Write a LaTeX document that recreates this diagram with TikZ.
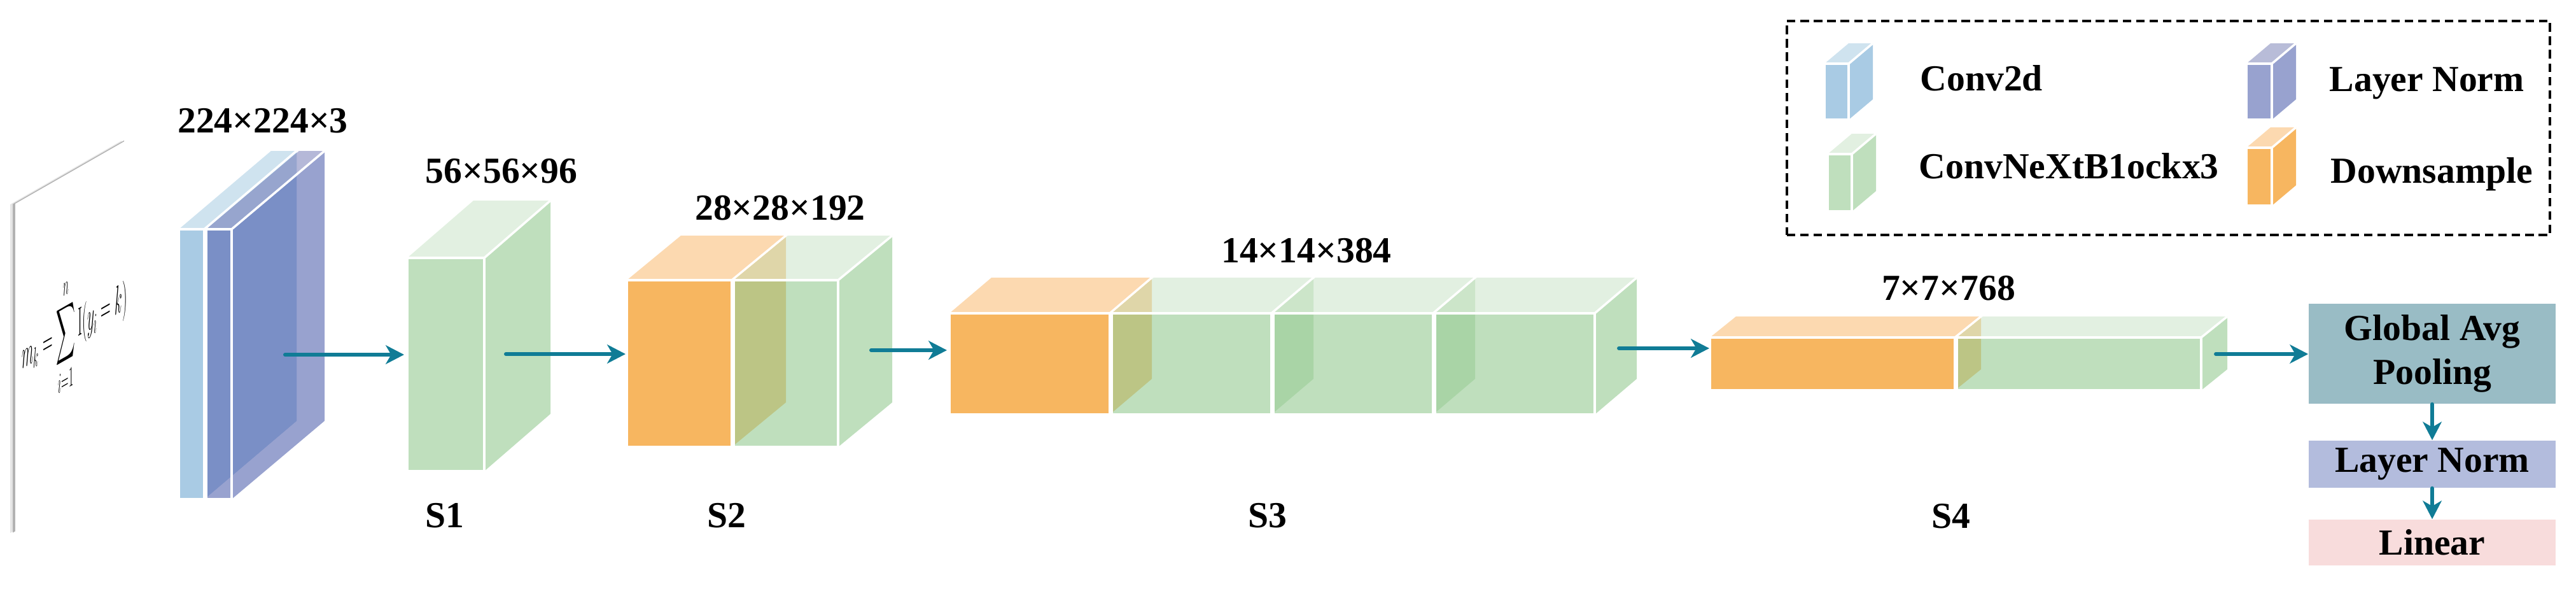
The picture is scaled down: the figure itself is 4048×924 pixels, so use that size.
\documentclass[tikz,border=0pt]{standalone}
\usepackage{fix-cm}
\usepackage{amsmath}
\usepackage[no-math]{fontspec}
\setmainfont{Liberation Serif}
\usetikzlibrary{arrows.meta}
\definecolor{lblue}{RGB}{169,203,228}
\definecolor{lbluetop}{RGB}{207,227,239}
\definecolor{purp}{RGB}{97,112,182}
\definecolor{purptop}{RGB}{142,146,195}
\definecolor{grn}{RGB}{157,206,154}
\definecolor{grntop}{RGB}{211,232,209}
\definecolor{orng}{RGB}{247,182,96}
\definecolor{orngtop}{RGB}{252,217,176}
\definecolor{lgreen}{RGB}{191,223,189}
\definecolor{lgreentop}{RGB}{226,240,225}
\definecolor{lnfront}{RGB}{152,162,207}
\definecolor{lntop}{RGB}{184,188,216}
\definecolor{arrowc}{RGB}{16,124,150}
\definecolor{gapc}{RGB}{153,188,197}
\definecolor{lnboxc}{RGB}{179,188,221}
\definecolor{linc}{RGB}{248,220,220}
% x1 x2 ytop ybot dx dy front top opacity
\newcommand\mycub[9]{%
  \fill[#7,fill opacity=#9] (#1,#3) rectangle (#2,#4);
  \fill[#7,fill opacity=#9] (#2,#3) -- ++(#5,#6) -- ++(0,{#4-#3}) -- (#2,#4) -- cycle;
  \fill[#8,fill opacity=#9] (#1,#3) -- (#2,#3) -- ++(#5,#6) -- ++({#1-#2},0) -- cycle;
}
\newcommand\mycubedge[6]{%
  \draw[wedge] (#1,#3) rectangle (#2,#4);
  \draw[wedge] (#2,#3) -- ++(#5,#6);
}
\begin{document}
\begin{tikzpicture}[x=0.01cm,y=-0.01cm,
  wedge/.style={draw=white,line width=1pt,line join=round},
  lab/.style={font=\fontsize{16.4}{19.7}\selectfont\bfseries,inner sep=0pt,anchor=base},
  leg/.style={font=\fontsize{16.4}{19.7}\selectfont\bfseries,inner sep=0pt,anchor=base west},
  box/.style={inner sep=0pt,font=\fontsize{16.4}{19.7}\selectfont\bfseries,minimum width=3.88cm},
  flow/.style={draw=arrowc,line width=1.7pt,line cap=round,-{Stealth[length=8.2pt,width=8.4pt,inset=2.4pt]}}]
\useasboundingbox (0,0) rectangle (4048,924);

% ---------- input sheet ----------
\fill[black!10,shift={(-8,1)}] (24,320) -- (199,220) -- (199,740) -- (24,836) -- cycle;
\fill[black!30,shift={(-4,0.5)}] (24,320) -- (199,220) -- (199,740) -- (24,836) -- cycle;
\fill[white] (24,320) -- (199,220) -- (199,740) -- (24,836) -- cycle;
\begin{scope}[shift={(117,520)},cm={0.34,0.194,0,1,(0,0)}]
  \node[transform shape,inner sep=0pt] (formula) at (0,0)
    {\fontsize{18}{20}\selectfont$\displaystyle m_k=\sum_{i=1}^{n}\mathrm{I}(y_i=k)$};
\end{scope}

% ---------- input block (Conv2d + Layer Norm) ----------
\fill[lblue] (321,360) -- (466,237) -- (466,661) -- (321,784) -- cycle;
\fill[lblue] (324,360) -- (364,360) -- (466,274) -- (466,240) -- cycle;
\mycub{281}{321}{360}{784}{145}{-123}{lblue}{lbluetop}{1}
\mycub{324}{364}{360}{784}{146}{-123}{purp}{purptop}{0.65}
\mycubedge{281}{321}{360}{784}{145}{-123}
\mycubedge{324}{364}{360}{784}{146}{-123}

% ---------- S1 ----------
\mycub{640}{761}{405}{740}{104}{-90}{grn}{grntop}{0.65}
% ---------- S2 ----------
\mycub{985}{1150}{440}{702}{85}{-70}{orng}{orngtop}{1}
\mycub{1153}{1317}{440}{702}{85}{-70}{grn}{grntop}{0.65}
% ---------- S3 ----------
\mycub{1492}{1744}{492}{651}{66}{-56}{orng}{orngtop}{1}
\mycub{1747}{1998}{492}{651}{66}{-56}{grn}{grntop}{0.65}
\mycub{2001}{2252}{492}{651}{66}{-56}{grn}{grntop}{0.65}
\mycub{2255}{2506}{492}{651}{66}{-56}{grn}{grntop}{0.65}
% ---------- S4 ----------
\mycub{2687}{3072}{530}{613}{41}{-33}{orng}{orngtop}{1}
\mycub{3075}{3459}{530}{613}{41}{-33}{grn}{grntop}{0.65}
% edges
\mycubedge{640}{761}{405}{740}{104}{-90}
\mycubedge{985}{1150}{440}{702}{85}{-70}
\mycubedge{1153}{1317}{440}{702}{85}{-70}
\mycubedge{1492}{1744}{492}{651}{66}{-56}
\mycubedge{1747}{1998}{492}{651}{66}{-56}
\mycubedge{2001}{2252}{492}{651}{66}{-56}
\mycubedge{2255}{2506}{492}{651}{66}{-56}
\mycubedge{2687}{3072}{530}{613}{41}{-33}
\mycubedge{3075}{3459}{530}{613}{41}{-33}

% ---------- size labels ----------
\node[lab] (d0) at (413,208) {224×224×3};
\node[lab] (d1) at (788,287) {56×56×96};
\node[lab] (d2) at (1226,345) {28×28×192};
\node[lab] (d3) at (2053,412) {14×14×384};
\node[lab] (d4) at (3062,471) {7×7×768};
\node[lab] (s1) at (699,828) {S1};
\node[lab] (s2) at (1142,828) {S2};
\node[lab] (s3) at (1992,828) {S3};
\node[lab] (s4) at (3066,829) {S4};

% ---------- head ----------
\node[box,fill=gapc,minimum height=1.57cm,align=center] (gap) at (3822,555.5) {Global Avg\\Pooling};
\node[box,fill=lnboxc,minimum height=0.74cm] (ln) at (3822,729) {Layer Norm};
\node[box,fill=linc,minimum height=0.72cm] (lin) at (3822,852) {Linear};

% ---------- arrows ----------
\coordinate (a1s) at (448,557);  \coordinate (a1e) at (635,557);
\coordinate (a2s) at (795,556);  \coordinate (a2e) at (983,556);
\coordinate (a3s) at (1369,550); \coordinate (a3e) at (1488,550);
\coordinate (a4s) at (2544,547); \coordinate (a4e) at (2686,547);
\coordinate (a5s) at (3482,556);
\draw[flow] (a1s) -- (a1e);
\draw[flow] (a2s) -- (a2e);
\draw[flow] (a3s) -- (a3e);
\draw[flow] (a4s) -- (a4e);
\draw[flow] (a5s) -- (a5s -| gap.west);
\draw[flow] (gap.south) -- (ln.north);
\draw[flow] (ln.south) -- (lin.north);

% ---------- legend ----------
\node[draw=black,line width=1.1pt,dash pattern=on 3.8pt off 2.2pt,inner sep=0pt,
      minimum width=11.99cm,minimum height=3.36cm] (legend) at (3407.5,201) {};
\mycub{2867}{2905}{100}{188}{38}{-32}{lblue}{lbluetop}{1}
\mycub{2872}{2910}{242}{332}{38}{-32}{lgreen}{lgreentop}{1}
\mycub{3530}{3570}{100}{188}{38}{-32}{lnfront}{lntop}{1}
\mycub{3530}{3570}{232}{323}{38}{-32}{orng}{orngtop}{1}
\mycubedge{2867}{2905}{100}{188}{38}{-32}
\mycubedge{2872}{2910}{242}{332}{38}{-32}
\mycubedge{3530}{3570}{100}{188}{38}{-32}
\mycubedge{3530}{3570}{232}{323}{38}{-32}
\node[leg] (lg1) at (3017,142) {Conv2d};
\node[leg] (lg2) at (3015,280) {ConvNeXtB1ockx3};
\node[leg] (lg3) at (3660,143) {Layer Norm};
\node[leg] (lg4) at (3662,287) {Downsample};
\end{tikzpicture}
\end{document}
